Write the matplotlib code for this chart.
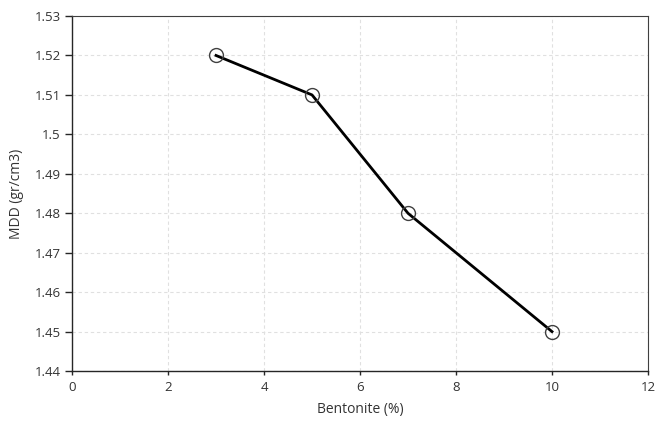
import numpy as np
import matplotlib
matplotlib.use("Agg")
import matplotlib.pyplot as plt

bentonite = [3, 5, 7, 10]
mdd = [1.52, 1.51, 1.48, 1.45]
x_ticks = [0, 2, 4, 6, 8, 10, 12]
y_ticks = [1.44, 1.45, 1.46, 1.47, 1.48, 1.49, 1.50, 1.51, 1.52, 1.53]
y_labels = ["1.44", "1.45", "1.46", "1.47", "1.48", "1.49", "1.5", "1.51", "1.52", "1.53"]

plt.rcParams['font.family'] = ['Open Sans', 'DejaVu Sans']

fig = plt.figure(figsize=(6.56, 4.26), dpi=100)
ax = fig.add_axes([0.1098, 0.129, 0.878, 0.8334])

ax.plot(bentonite, mdd, color='black', linewidth=2, marker='o', markersize=10,
        markerfacecolor='none', markeredgecolor='#404040', markeredgewidth=1, zorder=3)

ax.set_xlim(0, 12)
ax.set_ylim(1.44, 1.53)
ax.set_xticks(x_ticks)
ax.set_yticks(y_ticks)
ax.set_yticklabels(y_labels)
ax.grid(True, color='#e0e0e0', linestyle=(0, (3, 2.5)), linewidth=0.8)
ax.set_axisbelow(True)

for s in ['top', 'right']:
    ax.spines[s].set_color('#404040')
    ax.spines[s].set_linewidth(0.8)
for s in ['left', 'bottom']:
    ax.spines[s].set_color('#262626')
    ax.spines[s].set_linewidth(1)

ax.tick_params(axis='y', length=5, width=1, color='#262626', labelsize=9.5, labelcolor='#333333', pad=3)
ax.tick_params(axis='x', length=3, width=1, color='#262626', labelsize=9.5, labelcolor='#333333', pad=4)

ax.set_xlabel('Bentonite (%)', fontsize=10, color='#333333', labelpad=6)
ax.set_ylabel('MDD (gr/cm3)', fontsize=10, color='#333333', labelpad=8)

fig.savefig('out.png', dpi=100)
